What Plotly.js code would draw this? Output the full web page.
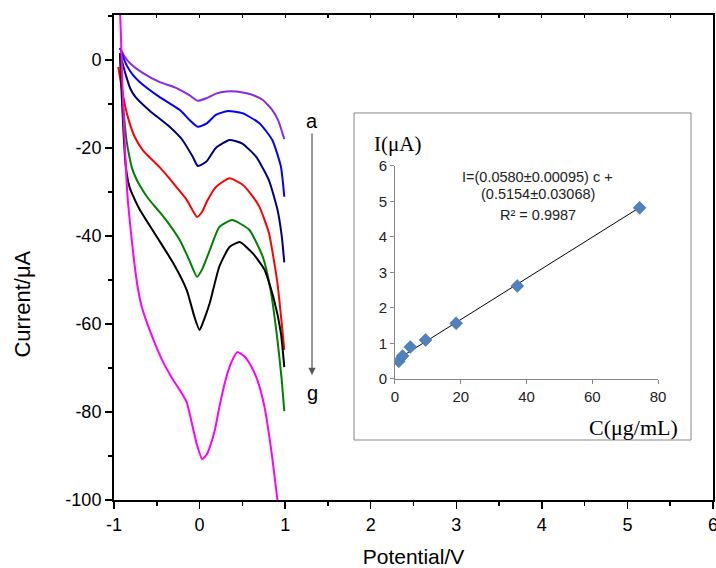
<!DOCTYPE html>
<html>
<head>
<meta charset="utf-8">
<script src="https://cdn.plot.ly/plotly-3.0.1.min.js"></script>
<style>html,body{margin:0;padding:0;background:#fff;}#chart{width:716px;height:568px;}</style>
</head>
<body>
<div id="chart"></div>
<script>
// ---- main CV curves (Potential/V vs Current/uA) ----
var curveNames = ['a', 'b', 'c', 'd', 'e', 'f', 'g'];
var curveColors = ['#8A2BE2', '#0000FF', '#000080', '#FF0000', '#008000', '#000000', '#FF00FF'];

var xA = [-0.93,-0.88,-0.81,-0.66,-0.47,-0.27,-0.12,-0.02,0.08,0.2,0.31,0.43,0.55,0.65,0.74,0.85,0.92,0.99];
var yA = [2.7,0.9,-0.8,-3,-5,-6.4,-8,-9.3,-8.7,-7.6,-7.2,-7.2,-7.6,-8.2,-9.1,-11.4,-13.8,-18];

var xB = [-0.93,-0.89,-0.85,-0.78,-0.7,-0.47,-0.23,-0.12,-0.02,0.08,0.19,0.33,0.5,0.7,0.85,0.95,0.99];
var yB = [2.7,0.5,-1.3,-3.4,-5,-8.4,-11.4,-13.6,-15.2,-14.5,-12.5,-11.6,-12.1,-14.4,-18.2,-24.2,-31.1];

var xC = [-0.93,-0.89,-0.85,-0.81,-0.75,-0.58,-0.35,-0.2,-0.08,-0.02,0.08,0.19,0.35,0.5,0.66,0.81,0.91,0.96,0.99];
var yC = [1.5,-1.5,-4.2,-6.5,-8.4,-11.6,-15.2,-18.2,-22,-24.1,-23.1,-20,-18.2,-19,-22,-27.3,-34,-40,-46];

var xD = [-0.95,-0.93,-0.9,-0.87,-0.82,-0.76,-0.66,-0.47,-0.35,-0.27,-0.15,-0.03,0.03,0.09,0.19,0.35,0.5,0.62,0.7,0.81,0.91,0.99];
var yD = [-1.6,-4,-7.4,-10.5,-14.2,-17.4,-20.6,-24.3,-27,-28.9,-31.8,-35.7,-34.5,-32,-28.9,-26.9,-28.3,-31,-33.4,-39.3,-50.7,-65.9];

var xE = [-0.93,-0.91,-0.89,-0.87,-0.85,-0.82,-0.79,-0.74,-0.7,-0.6,-0.47,-0.35,-0.23,-0.12,-0.03,0.03,0.12,0.23,0.38,0.58,0.74,0.83,0.91,0.96,0.99];
var yE = [1.5,-5,-11,-15.5,-18.8,-22,-24.6,-27,-28.5,-31.5,-34.5,-37.5,-41,-45.5,-49.3,-47.6,-43.2,-38,-36.4,-38.6,-44.8,-52.3,-63.6,-72.7,-79.8];

var xF = [-0.93,-0.91,-0.89,-0.87,-0.85,-0.82,-0.78,-0.7,-0.5,-0.31,-0.15,-0.06,0,0.06,0.12,0.23,0.35,0.47,0.62,0.76,0.87,0.95,0.99];
var yF = [1.5,-8,-16,-22.5,-26,-28.8,-30.8,-34,-40.2,-46.1,-52.3,-58.4,-61.4,-58.6,-55.2,-47,-42.5,-41.4,-43.9,-47.7,-54.5,-62,-69.8];

var xG = [-0.935,-0.92,-0.9,-0.87,-0.84,-0.8,-0.76,-0.72,-0.67,-0.6,-0.52,-0.43,-0.31,-0.21,-0.15,-0.08,-0.03,0.03,0.08,0.12,0.18,0.23,0.3,0.37,0.44,0.52,0.6,0.68,0.76,0.84,0.91];
var yG = [14,6,-7,-21,-31.5,-39.5,-46.5,-52,-56.5,-60.5,-64.5,-68.5,-72.7,-75.7,-77.8,-83.4,-87.5,-90.7,-89.8,-88,-84,-79,-73,-68.8,-66.4,-67.3,-69.5,-73,-79,-89,-100];

var curveX = [xA, xB, xC, xD, xE, xF, xG];
var curveY = [yA, yB, yC, yD, yE, yF, yG];

// tick labels (plain hyphen minus as in the reference)
var xTickVals = [-1, 0, 1, 2, 3, 4, 5, 6];
var xTickText = ['-1', '0', '1', '2', '3', '4', '5', '6'];
var yTickVals = [-100, -80, -60, -40, -20, 0];
var yTickText = ['-100', '-80', '-60', '-40', '-20', '0'];

// ---- inset calibration data ----
var concC = [1.16, 2.32, 4.65, 9.3, 18.6, 37.2, 74.4];
var currentI = [0.5, 0.65, 0.9, 1.1, 1.57, 2.62, 4.82];
var fitC = [1.16, 74.4];
var fitI = [0.58, 4.83];

var eqLines = ['I=(0.0580±0.00095) c +', '(0.5154±0.03068)', 'R² = 0.9987'];

var traces = [];
for (var i = 0; i < curveX.length; i++) {
  traces.push({
    x: curveX[i], y: curveY[i], name: curveNames[i],
    type: 'scatter', mode: 'lines',
    line: {color: curveColors[i], width: 2, shape: 'spline', smoothing: 0.5},
    xaxis: 'x', yaxis: 'y', hoverinfo: 'skip', showlegend: false
  });
}
// invisible copy on the top axis so that its inside ticks are drawn
traces.push({
  x: xA, y: yA, type: 'scatter', mode: 'lines', line: {width: 0, color: 'rgba(0,0,0,0)'},
  xaxis: 'x2', yaxis: 'y', hoverinfo: 'skip', showlegend: false
});
traces.push({
  x: fitC, y: fitI, type: 'scatter', mode: 'lines',
  line: {color: '#000000', width: 1},
  xaxis: 'x3', yaxis: 'y3', showlegend: false, hoverinfo: 'skip'
});
traces.push({
  x: concC, y: currentI, type: 'scatter', mode: 'markers',
  marker: {symbol: 'diamond', size: 10, color: '#4F81BD', line: {color: '#3F6FA8', width: 0.5}},
  xaxis: 'x3', yaxis: 'y3', showlegend: false, hoverinfo: 'skip'
});

var sans = 'Liberation Sans, Arial, sans-serif';
var serif = 'Liberation Serif, Times New Roman, serif';
var mainFont = {family: sans, size: 18, color: '#000'};

var annotations = [
  {text: 'Current/μA', xref: 'paper', yref: 'paper', x: -0.152, y: 0.405, xanchor: 'center', yanchor: 'middle',
   showarrow: false, textangle: -90, font: {family: sans, size: 22, color: '#000'}},
  {text: 'a', x: 1.314, y: -13.9, xref: 'x', yref: 'y', xanchor: 'center', yanchor: 'middle', showarrow: false,
   font: {family: sans, size: 20, color: '#000'}},
  {text: 'g', x: 1.314, y: -75.7, xref: 'x', yref: 'y', xanchor: 'center', yanchor: 'middle', showarrow: false,
   font: {family: sans, size: 20, color: '#000'}},
  {text: '', x: 1.314, y: -71.6, xref: 'x', yref: 'y', ax: 0, ay: -243,
   showarrow: true, arrowhead: 2, arrowsize: 1.2, arrowwidth: 1.2, arrowcolor: '#555555'},
  {text: 'I(μA)', x: 0.473, y: 0.735, xref: 'paper', yref: 'paper', xanchor: 'center', yanchor: 'middle', showarrow: false,
   font: {family: serif, size: 21, color: '#000'}},
  {text: 'C(μg/mL)', x: 0.867, y: 0.150, xref: 'paper', yref: 'paper', xanchor: 'center', yanchor: 'middle', showarrow: false,
   font: {family: serif, size: 22, color: '#000'}}
];
var eqY = [0.667, 0.630, 0.588];
for (var k = 0; k < eqLines.length; k++) {
  annotations.push({text: eqLines[k], x: 0.7078, y: eqY[k], xref: 'paper', yref: 'paper',
    xanchor: 'center', yanchor: 'middle', showarrow: false,
    font: {family: sans, size: 14.5, color: '#222'}});
}

var layout = {
  width: 716, height: 568,
  margin: {l: 114, r: 3, t: 15, b: 68},
  paper_bgcolor: '#fff', plot_bgcolor: '#fff',
  showlegend: false,
  font: mainFont,
  xaxis: {
    range: [-1, 6], tickmode: 'array', tickvals: xTickVals, ticktext: xTickText,
    ticklabeloverflow: 'allow',
    showgrid: false, zeroline: false,
    showline: true, linecolor: '#000', linewidth: 2, mirror: true,
    ticks: 'outside', ticklen: 7, tickwidth: 1.5, tickcolor: '#000',
    minor: {dtick: 0.5, tick0: -1, ticks: 'outside', ticklen: 4, tickwidth: 1.5, tickcolor: '#000'},
    tickfont: mainFont,
    title: {text: 'Potential/V', font: {family: sans, size: 21, color: '#000'}, standoff: 21}
  },
  xaxis2: {
    overlaying: 'x', side: 'top', anchor: 'y', range: [-1, 6], dtick: 0.5, tick0: -1,
    showgrid: false, zeroline: false, showline: false, showticklabels: false,
    ticks: 'inside', ticklen: 3, tickwidth: 1.2, tickcolor: '#000'
  },
  yaxis: {
    range: [-100, 10.2], tickmode: 'array', tickvals: yTickVals, ticktext: yTickText,
    showgrid: false, zeroline: false,
    showline: true, linecolor: '#000', linewidth: 2, mirror: true,
    ticks: 'outside', ticklen: 7, tickwidth: 1.5, tickcolor: '#000',
    minor: {dtick: 10, tick0: 0, ticks: 'outside', ticklen: 4, tickwidth: 1.5, tickcolor: '#000'},
    tickfont: mainFont
  },
  xaxis3: {
    domain: [0.4691, 0.9082], anchor: 'y3', range: [0, 80], dtick: 20,
    showgrid: false, zeroline: false, showline: true, linecolor: '#868686', linewidth: 1,
    ticks: 'outside', ticklen: 4, tickcolor: '#868686',
    tickfont: {family: sans, size: 15, color: '#222'}
  },
  yaxis3: {
    domain: [0.2495, 0.6887], anchor: 'x3', range: [0, 6], dtick: 1,
    showgrid: false, zeroline: false, showline: true, linecolor: '#868686', linewidth: 1,
    ticks: 'outside', ticklen: 4, tickcolor: '#868686',
    tickfont: {family: sans, size: 15, color: '#222'}
  },
  shapes: [{
    type: 'rect', xref: 'paper', yref: 'paper', x0: 0.4007, x1: 0.9633, y0: 0.1237, y1: 0.798,
    line: {color: '#888888', width: 1}, fillcolor: 'rgba(0,0,0,0)', layer: 'below'
  }],
  annotations: annotations
};

Plotly.newPlot('chart', traces, layout, {staticPlot: true, displayModeBar: false});
</script>
</body>
</html>
